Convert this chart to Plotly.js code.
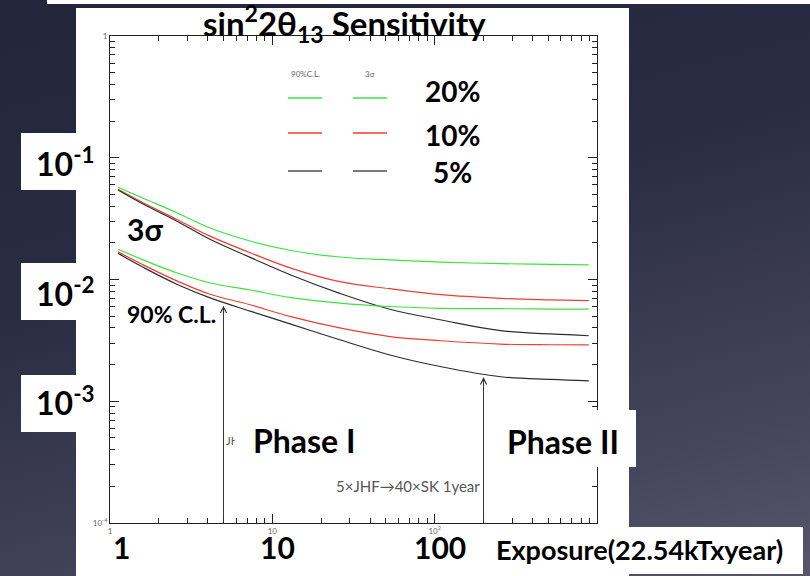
<!DOCTYPE html>
<html><head><meta charset="utf-8">
<script src="https://cdn.plot.ly/plotly-3.0.1.min.js"></script>
<style>
html,body{margin:0;padding:0;width:810px;height:576px;overflow:hidden;
background:linear-gradient(165deg,#23253b 0%,#2a2c43 40%,#45465c 80%,#56576a 100%);}
#chart{width:810px;height:576px;}
</style></head><body><div id="chart"></div>
<script>
// Exposure (x) sample points, in units of 22.5 kt x year
const exposure = [1.12, 1.6, 2.6, 4.1, 7.3, 13, 26, 53, 110, 255, 520, 890];
// 3 sigma sensitivity curves (systematic error 20%, 10%, 5%)
const sigma3_20 = [0.0572, 0.0465, 0.0352, 0.0266, 0.0207, 0.0173, 0.0153, 0.0145, 0.0139, 0.0135, 0.0133, 0.0132];
const sigma3_10 = [0.0551, 0.0427, 0.0310, 0.0228, 0.0166, 0.0124, 0.0096, 0.0084, 0.0075, 0.0070, 0.0068, 0.0067];
const sigma3_5  = [0.0544, 0.0417, 0.0300, 0.0215, 0.0152, 0.0109, 0.0077, 0.0057, 0.00465, 0.0038, 0.00357, 0.00345];
// 90% C.L. sensitivity curves
const cl90_20 = [0.0177, 0.0145, 0.0113, 0.0094, 0.0082, 0.0071, 0.0064, 0.0060, 0.0058, 0.00576, 0.00572, 0.00572];
const cl90_10 = [0.0169, 0.0132, 0.0097, 0.0076, 0.0062, 0.00495, 0.0040, 0.0034, 0.00314, 0.00295, 0.00291, 0.0029];
const cl90_5  = [0.0164, 0.0126, 0.0091, 0.0071, 0.0055, 0.0043, 0.0032, 0.0024, 0.00192, 0.00159, 0.00151, 0.00147];
// Phase arrows (exposure, tip value)
const arrowX = [5, 200];
const arrowTip = [0.0061, 0.00158];
// Tick labels
const xTickVals = [1, 10, 100, 1000];
const xTickText = ['1', '10', '10<sup>2</sup>', ''];
const yTickVals = [1e-4, 1e-3, 1e-2, 1e-1, 1];
const yTickText = ['10<sup>-4</sup>', '', '', '', '1'];
const legendRows = ['20%', '10%', '5%'];

const GREEN = 'rgb(60,228,60)', RED = 'rgb(238,62,48)', BLACK = 'rgb(45,45,45)';
const L = 110, R = 597, T = 36, B = 523;
const px = x => (x - L) / (R - L);
const py = y => (B - y) / (B - T);

function line(y, color) {
  return {x: exposure, y: y, type: 'scatter', mode: 'lines', line: {color: color, width: 1.2, shape: 'spline', smoothing: 1.1}, hoverinfo: 'skip', showlegend: false};
}
const data = [line(sigma3_20, GREEN), line(sigma3_10, RED), line(sigma3_5, BLACK),
              line(cl90_20, GREEN), line(cl90_10, RED), line(cl90_5, BLACK)];

const minorX = [], minorY = [];
for (let d = 0; d < 3; d++) for (let k = 2; k <= 9; k++) minorX.push(k * Math.pow(10, d));
for (let d = -4; d < 0; d++) for (let k = 2; k <= 9; k++) minorY.push(k * Math.pow(10, d));

const FONT = 'Lato, "Open Sans", "DejaVu Sans", sans-serif';
function rect(x0, y0, x1, y1, layer) {
  return {type: 'rect', xref: 'paper', yref: 'paper', x0: px(x0), x1: px(x1), y0: py(y1), y1: py(y0),
          fillcolor: 'white', line: {width: 0}, layer: layer || 'below'};
}
function seg(x0, x1, y, color) {
  return {type: 'line', xref: 'paper', yref: 'paper', x0: px(x0), x1: px(x1), y0: py(y), y1: py(y),
          line: {color: color, width: 1.3}, layer: 'above'};
}
const shapes = [
  rect(47, 0, 810, 4), rect(76, 8, 629, 576), rect(629, 527, 803, 574),
  rect(21, 133, 77, 190), rect(21, 263, 77, 320), rect(21, 375, 77, 432),
  rect(492, 410, 636, 467, 'above'),
  seg(288, 322, 98, GREEN), seg(353, 387, 98, GREEN),
  seg(288, 322, 133, RED), seg(353, 387, 133, RED),
  seg(288, 322, 171, 'rgb(80,80,80)'), seg(353, 387, 171, 'rgb(80,80,80)')
];

function ann(text, x, y, size, extra) {
  return Object.assign({text: text, xref: 'paper', yref: 'paper', x: px(x), y: py(y), showarrow: false,
    xanchor: 'center', yanchor: 'middle', font: {family: FONT, size: size, color: 'black'}}, extra || {});
}
const annotations = [
  ann('<b>sin<sup>2</sup>2θ<sub>13</sub> Sensitivity</b>', 344, 23, 33),
  ann('90%C.L.', 305, 74, 8, {font: {family: FONT, size: 8, color: '#666'}}),
  ann('3σ', 370, 74, 8, {font: {family: FONT, size: 8, color: '#666'}}),
  ann('<b>' + legendRows[0] + '</b>', 452, 91, 28),
  ann('<b>' + legendRows[1] + '</b>', 452, 135, 28),
  ann('<b>' + legendRows[2] + '</b>', 452, 172, 28),
  ann('<b>10<sup>-1</sup></b>', 34, 162, 32, {xanchor: 'left'}),
  ann('<b>10<sup>-2</sup></b>', 34, 292, 32, {xanchor: 'left'}),
  ann('<b>10<sup>-3</sup></b>', 34, 401, 32, {xanchor: 'left'}),
  ann('<b>3σ</b>', 125, 229, 30, {xanchor: 'left'}),
  ann('<b>90% C.L.</b>', 125, 314, 23, {xanchor: 'left'}),
  ann('JHF', 224, 440, 11, {xanchor: 'left', font: {family: FONT, size: 11, color: '#555'}}),
  ann('<b>Phase I</b>', 304, 440, 32, {bgcolor: 'white', borderpad: 18}),
  ann('<b>Phase II</b>', 563, 441, 32),
  ann('5×JHF→40×SK 1year', 482, 486, 15, {xanchor: 'right', font: {family: FONT, size: 15, color: '#555'}}),
  ann('<b>1</b>', 121, 547, 30),
  ann('<b>10</b>', 277, 547, 30),
  ann('<b>100</b>', 440, 547, 30),
  ann('<b>Exposure(22.54kTxyear)</b>', 494, 549, 27, {xanchor: 'left'})
];
for (let i = 0; i < arrowX.length; i++) {
  annotations.push({x: Math.log10(arrowX[i]), y: Math.log10(arrowTip[i]), xref: 'x', yref: 'y',
    axref: 'x', ayref: 'y', ax: Math.log10(arrowX[i]), ay: -4, text: '', showarrow: true,
    arrowhead: 5, arrowsize: 1.2, arrowwidth: 1, arrowcolor: '#333'});
}

const axisCommon = {type: 'log', showline: true, linecolor: '#222', linewidth: 1, mirror: 'allticks',
  ticks: 'inside', ticklen: 9, tickcolor: '#222', tickwidth: 1, showgrid: false, zeroline: false,
  tickfont: {family: FONT, size: 8, color: '#666'}};
const layout = {
  width: 810, height: 576,
  margin: {l: L, r: 810 - R, t: T, b: 576 - B},
  paper_bgcolor: 'rgba(0,0,0,0)', plot_bgcolor: 'white',
  showlegend: false,
  xaxis: Object.assign({}, axisCommon, {range: [0, 3], tickvals: xTickVals, ticktext: xTickText,
    minor: {tickvals: minorX, ticks: 'inside', ticklen: 5, tickcolor: '#222', showgrid: false}}),
  yaxis: Object.assign({}, axisCommon, {range: [-4, 0], tickvals: yTickVals, ticktext: yTickText,
    minor: {tickvals: minorY, ticks: 'inside', ticklen: 5, tickcolor: '#222', showgrid: false}}),
  shapes: shapes, annotations: annotations
};
Plotly.newPlot('chart', data, layout, {displayModeBar: false, staticPlot: true});
</script></body></html>
